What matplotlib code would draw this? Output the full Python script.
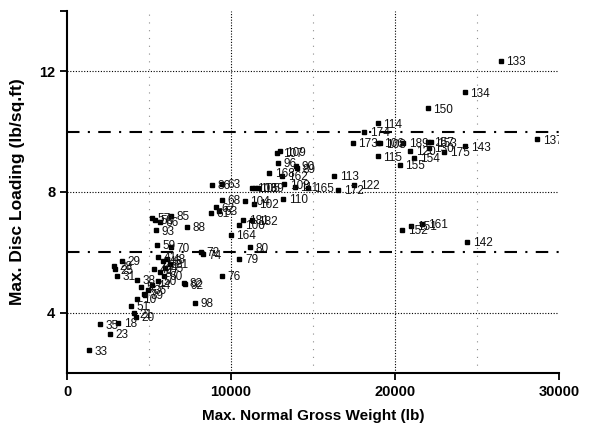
import matplotlib
matplotlib.use("Agg")
import matplotlib.pyplot as plt
from matplotlib.transforms import offset_copy

plt.rcParams['font.family'] = ['Liberation Sans', 'DejaVu Sans']

# rotor craft id, max normal gross weight (lb), max disc loading (lb/sq.ft)
ids = ['133', '134', '150', '114', '174', '137', '173', '106', '108', '189',
       '157', '153', '120', '130', '175', '143', '115', '154', '155', '113',
       '122', '172', '165', '111', '107', '109', '96', '90', '89', '168',
       '162', '103', '105', '169', '108', '86', '63', '68', '104', '102',
       '110', '62', '61', '53', '181', '182', '100', '164', '80', '79',
       '76', '72', '74', '82', '92', '98', '88', '85', '57', '58',
       '66', '93', '59', '70', '41', '46', '48', '81', '45', '49',
       '47', '60', '50', '44', '36', '39', '5', '7', '10', '38',
       '51', '21', '20', '18', '35', '23', '33', '29', '28', '25',
       '31', '142', '161', '151', '152']
weight = [26445, 24250, 21990, 18945, 18130, 28680, 17420, 18990, 19085, 20490,
          22030, 22200, 20915, 22070, 23010, 24270, 18945, 21160, 20300, 16280,
          17500, 16540, 14710, 13900, 12820, 12990, 12850, 13960, 14040, 12320,
          13110, 11260, 11460, 11670, 13250, 8820, 9450, 9430, 10850, 11400,
          13170, 9080, 8780, 9270, 10750, 11280, 10510, 9980, 11160, 10510,
          9430, 8170, 8290, 7130, 7200, 7800, 7300, 6340, 5160, 5370,
          5670, 5430, 5470, 6340, 5550, 5850, 6100, 6280, 5980, 5300,
          5670, 5910, 5550, 5180, 4940, 4760, 4510, 4700, 4270, 4270,
          3900, 4085, 4210, 3110, 2010, 2620, 1340, 3350, 2870, 2930,
          3050, 24410, 21650, 20980, 20430]
loading = [12.34, 11.31, 10.77, 10.28, 10.00, 9.75, 9.64, 9.64, 9.61, 9.63,
           9.67, 9.65, 9.36, 9.46, 9.33, 9.51, 9.18, 9.13, 8.90, 8.54,
           8.24, 8.07, 8.13, 8.17, 9.29, 9.35, 8.96, 8.87, 8.79, 8.63,
           8.54, 8.13, 8.13, 8.13, 8.26, 8.24, 8.27, 7.74, 7.71, 7.61,
           7.77, 7.49, 7.31, 7.38, 7.08, 7.06, 6.91, 6.58, 6.16, 5.79,
           5.23, 6.02, 5.94, 4.98, 4.94, 4.32, 6.84, 7.21, 7.14, 7.08,
           7.02, 6.73, 6.25, 6.17, 5.85, 5.72, 5.79, 5.62, 5.49, 5.46,
           5.36, 5.23, 5.06, 4.93, 4.76, 4.60, 4.86, 4.63, 4.46, 5.09,
           4.23, 3.98, 3.87, 3.67, 3.61, 3.29, 2.75, 5.71, 5.56, 5.44,
           5.23, 6.34, 6.95, 6.88, 6.75]

limits = [6, 10]  # disc loading bands

fig = plt.figure(figsize=(5.91, 4.30), dpi=100)
ax = fig.add_axes([0.1134, 0.1326, 0.8325, 0.8418])

# grid
for gx in [10000, 20000]:
    ax.axvline(gx, color='black', lw=0.8, ls=(0, (1, 1.5)), zorder=1)
for gx in [5000, 15000, 25000]:
    ax.axvline(gx, color='0.55', lw=0.8, ls=(0, (1, 6)), zorder=1)
for gy in [4, 8, 12]:
    ax.axhline(gy, color='black', lw=0.8, ls=(0, (1, 1.5)), zorder=1)
for ly in limits:
    ax.axhline(ly, color='black', lw=1.5, ls=(0, (6, 4, 1, 4)), zorder=2)

ax.plot(weight, loading, 's', color='black', ms=3.5, zorder=3)
shifted = offset_copy(ax.transData, fig=fig, x=4, y=-1, units='points')
for lab, x, y in zip(ids, weight, loading):
    t = ax.text(x, y, lab, transform=shifted, fontsize=8.5, va='center', ha='left',
                color='#111111', clip_on=True)
    t.set_clip_box(ax.bbox)  # labels past the right edge get cut, as in the source

ax.set_xlim(0, 30000)
ax.set_ylim(2, 14)
ax.set_xticks([0, 10000, 20000, 30000])
ax.set_yticks([4, 8, 12])
ax.set_yticks([14], minor=True)
ax.tick_params(axis='both', which='both', direction='out', length=5, width=1.3,
               labelsize=10.5)
for t in ax.get_xticklabels() + ax.get_yticklabels():
    t.set_fontweight('bold')

for s in ['top', 'right']:
    ax.spines[s].set_visible(False)
for s in ['left', 'bottom']:
    ax.spines[s].set_linewidth(1.5)

ax.set_xlabel('Max. Normal Gross Weight (lb)', fontsize=11, fontweight='bold', labelpad=7)
ax.set_ylabel('Max. Disc Loading (lb/sq.ft)', fontsize=12.5, fontweight='bold', labelpad=10)

fig.savefig('out.png', dpi=100)
